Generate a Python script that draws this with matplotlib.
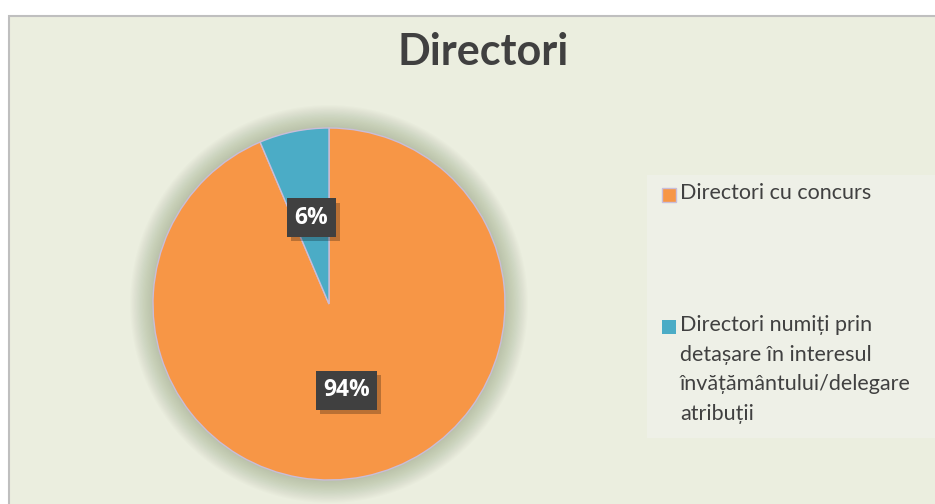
import numpy as np
import matplotlib.pyplot as plt
import matplotlib.patheffects as pe
from matplotlib.patches import Rectangle, Circle

categorii = ['Directori cu concurs',
             'Directori numiți prin\ndetașare în interesul\nînvățământului/delegare\natribuții']
valori = [93.6, 6.4]
culori = ['#F79646', '#4BACC6']
titlu = 'Directori'

fig = plt.figure(figsize=(9.35, 5.04), dpi=100)
fig.patch.set_facecolor('white')

# chart area with grey border
fig.patches.append(Rectangle((9 / 935, -0.05), 1.0, 1 - 16 / 504 + 0.05,
                             transform=fig.transFigure, facecolor='#EBEEDF',
                             edgecolor='#BFBFBF', linewidth=1.5, zorder=0))
# legend box
fig.patches.append(Rectangle((647 / 935, 1 - 438 / 504), 288 / 935, 263 / 504,
                             transform=fig.transFigure, facecolor='#EEF0E7',
                             edgecolor='none', zorder=1))

fig.text(483 / 935, 1 - 52 / 504, titlu, ha='center', va='center',
         fontsize=31, fontweight='bold', color='#404040', family='Lato')

ax = fig.add_axes([(329 - 200) / 935, (504 - 304 - 200) / 504, 400 / 935, 400 / 504])
ax.set_zorder(3)
ax.patch.set_visible(False)
ax.set_aspect('equal')
ax.axis('off')

# soft shadow round the pie
n = 20
for i in range(n):
    ax.add_patch(Circle((0, 0.0), 1.0 + 0.0065 * (n - i), facecolor='#6B7D52',
                        edgecolor='none', alpha=0.018, zorder=0))

wedges = ax.pie(valori, colors=culori, startangle=90, counterclock=False,
                wedgeprops=dict(edgecolor='#C9BDD9', linewidth=1),
                radius=1.0)[0]
ax.set_xlim(-200 / 176, 200 / 176)
ax.set_ylim(-200 / 176, 200 / 176)

for w, v in zip(wedges, valori):
    ang = np.deg2rad((w.theta1 + w.theta2) / 2)
    x, y = 0.5 * np.cos(ang), 0.5 * np.sin(ang)
    t = ax.text(x, y, f'{round(v)}%', ha='center', va='center', fontsize=16.5,
                fontweight='bold', color='white', family='Open Sans', zorder=5,
                bbox=dict(boxstyle='square,pad=0.32', facecolor='#404040',
                          edgecolor='none'))
    t.get_bbox_patch().set_path_effects([
        pe.SimplePatchShadow(offset=(3, -3), shadow_rgbFace='black', alpha=0.25),
        pe.Normal()])

# legend
leg_y = [195, 327]
for c, lab, yy in zip(culori, categorii, leg_y):
    fig.patches.append(Rectangle((662 / 935, 1 - (yy + 7) / 504), 14 / 935, 14 / 504,
                                 transform=fig.transFigure, facecolor=c,
                                 edgecolor='#C9BDD9' if c == culori[0] else 'none',
                                 linewidth=1, zorder=2))
    fig.text(680 / 935, 1 - (yy - 12) / 504, lab, ha='left', va='top',
             fontsize=15.5, color='#404040', family='Lato', linespacing=1.6,
             zorder=3)

fig.savefig('out.png', dpi=100)
